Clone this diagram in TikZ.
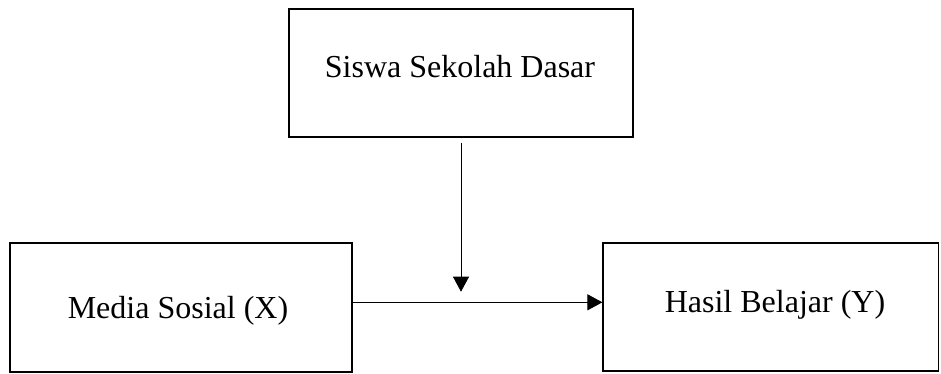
\documentclass[tikz,border=0pt]{standalone}
\usepackage{fontspec}
\setmainfont{Liberation Serif}
\usetikzlibrary{arrows.meta}
\begin{document}
\begin{tikzpicture}[x=1pt,y=-1pt,
  box/.style={draw=black,line width=1.8pt,rectangle,inner sep=0pt},
  lbl/.style={anchor=base,inner sep=0pt,font=\fontsize{32}{36}\selectfont},
  conn/.style={draw=black,line width=0.9pt,-{Triangle[length=15pt,width=16pt]}}]
\useasboundingbox (0,0) rectangle (941,373);
\node[box,minimum width=343.7pt,minimum height=128pt] (top) at (461,73.3) {};
\node[box,minimum width=342pt,minimum height=128.4pt] (left) at (181,307.5) {};
\node[box,minimum width=335.2pt,minimum height=128.6pt] (right) at (770.9,307) {};
\node[lbl] (toptxt) at (460,77) {Siswa Sekolah Dasar};
\node[lbl] (lefttxt) at (178,318) {Media Sosial (X)};
\node[lbl] (righttxt) at (775,312) {Hasil Belajar (Y)};
\coordinate (vstart) at (461,142.7);
\coordinate (vend) at (461,291.7);
\coordinate (hy) at (0,302.3);
\draw[conn] (vstart) -- (vend);
\draw[conn] (left.east |- hy) -- (right.west |- hy);
\end{tikzpicture}
\end{document}
